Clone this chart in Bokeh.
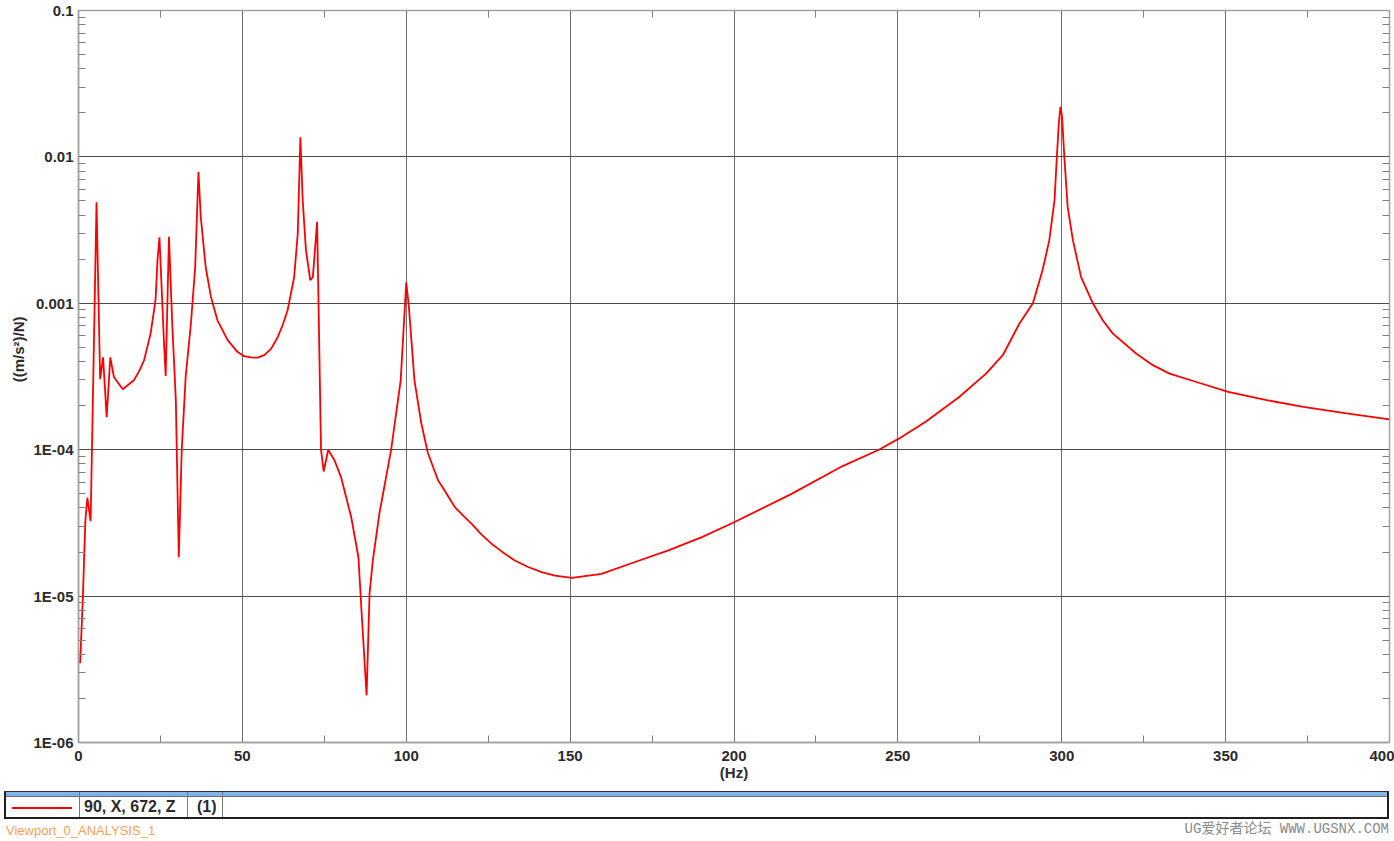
from bokeh.plotting import figure
from bokeh.models import FixedTicker, LogAxis, LinearAxis, Range1d, Div
from bokeh.layouts import column
from bokeh.embed import file_html
from bokeh.resources import INLINE

# ---- data ----
freq_hz = [0.5, 1.3, 2.1, 2.7, 3.7, 5.5, 6.6, 7.5, 8.6, 9.7, 10.8, 13.5, 16.9, 18.4,
           20.0, 22.0, 23.5, 24.1, 24.7, 26.1, 26.6, 27.6, 28.6, 29.7, 30.6, 31.5,
           32.7, 34.3, 35.6, 36.6, 37.3, 38.8, 40.4, 42.4, 45.5, 48.5, 50.5, 52.6,
           54.6, 56.7, 58.8, 60.8, 62.3, 63.8, 65.8, 66.9, 67.7, 68.4, 69.4, 70.7,
           71.5, 72.8, 74.0, 74.8, 76.2, 78.1, 80.1, 83.2, 85.4, 86.4, 87.9, 88.8,
           89.8, 91.8, 95.4, 98.3, 100.0, 100.8, 102.5, 104.6, 106.6, 108.2, 109.7,
           111.7, 114.8, 117.3, 119.9, 122.9, 126.0, 129.1, 133.1, 137.2, 141.3,
           145.4, 150.5, 159.6, 169.8, 180.0, 190.2, 200.2, 217.7, 233.0, 244.2,
           250.3, 258.5, 268.7, 276.9, 282.0, 287.1, 291.2, 294.2, 296.2, 297.8,
           298.5, 299.1, 299.6, 300.1, 300.8, 301.8, 303.4, 305.9, 309.5, 312.5,
           315.6, 322.7, 327.8, 332.9, 341.1, 350.8, 362.5, 373.7, 386.9, 400.0]
response = [3.48e-6, 9.35e-6, 3.29e-5, 4.7e-5, 3.25e-5, 4.9e-3, 3.03e-4, 4.27e-4,
            1.67e-4, 4.27e-4, 3.14e-4, 2.59e-4, 2.98e-4, 3.4e-4, 4.08e-4, 6.21e-4,
            1.05e-3, 1.97e-3, 2.82e-3, 5.3e-4, 3.19e-4, 2.85e-3, 7.28e-4, 2.18e-4,
            1.84e-5, 1.0e-4, 3.14e-4, 7.28e-4, 1.77e-3, 7.9e-3, 3.9e-3, 1.77e-3,
            1.11e-3, 7.65e-4, 5.6e-4, 4.66e-4, 4.35e-4, 4.27e-4, 4.25e-4, 4.42e-4,
            4.9e-4, 5.89e-4, 7.1e-4, 8.97e-4, 1.51e-3, 3.0e-3, 1.36e-2, 5.07e-3,
            2.31e-3, 1.44e-3, 1.51e-3, 3.6e-3, 1.0e-4, 7.1e-5, 1.0e-4, 8.47e-5,
            6.5e-5, 3.47e-5, 1.85e-5, 7.6e-6, 2.1e-6, 1.04e-5, 1.75e-5, 3.66e-5,
            1.0e-4, 2.98e-4, 1.39e-3, 9.5e-4, 2.98e-4, 1.51e-4, 9.5e-5, 7.62e-5,
            6.18e-5, 5.27e-5, 4.06e-5, 3.56e-5, 3.13e-5, 2.64e-5, 2.28e-5, 2.02e-5,
            1.75e-5, 1.58e-5, 1.46e-5, 1.38e-5, 1.33e-5, 1.42e-5, 1.71e-5, 2.05e-5,
            2.53e-5, 3.21e-5, 5.01e-5, 7.7e-5, 1.0e-4, 1.19e-4, 1.55e-4, 2.29e-4,
            3.31e-4, 4.42e-4, 7.28e-4, 1.0e-3, 1.7e-3, 2.7e-3, 5.07e-3, 1.0e-2,
            1.69e-2, 2.2e-2, 1.88e-2, 9.9e-3, 4.56e-3, 2.7e-3, 1.51e-3, 1.0e-3,
            7.66e-4, 6.21e-4, 4.54e-4, 3.78e-4, 3.31e-4, 2.9e-4, 2.48e-4, 2.18e-4,
            1.96e-4, 1.77e-4, 1.61e-4]

x_ticks = [0, 50, 100, 150, 200, 250, 300, 350, 400]
x_minor = [25, 75, 125, 175, 225, 275, 325, 375]
y_ticks = [1e-6, 1e-5, 1e-4, 1e-3, 1e-2, 1e-1]
y_tick_labels = ["1E-06", "1E-05", "1E-04", "0.001", "0.01", "0.1"]
x_label = "(Hz)"
y_label = "((m/s\u00b2)/N)"
legend_label = "90, X, 672, Z"
legend_index = "(1)"
viewport_name = "Viewport_0_ANALYSIS_1"
watermark = "UG\u7231\u597d\u8005\u8bba\u575b WWW.UGSNX.COM"

FONT = "Liberation Sans"
TXT = "#2b2b2b"
PLOT_H = 786
TOTAL_W, TOTAL_H = 1394, 841

y_minor = [k * d for d in y_ticks[:-1] for k in range(2, 10)]
xt = FixedTicker(ticks=x_ticks, minor_ticks=x_minor)
yt = FixedTicker(ticks=y_ticks, minor_ticks=y_minor)

p = figure(width=TOTAL_W, height=PLOT_H, x_range=Range1d(0, 400),
           y_range=Range1d(1e-6, 0.1), y_axis_type="log", output_backend="svg",
           toolbar_location=None, min_border_left=78, min_border_right=5,
           min_border_top=10, min_border_bottom=PLOT_H - 742)
p.background_fill_color = "white"
p.border_fill_color = "white"
p.outline_line_color = "#a8a8a8"
p.outline_line_width = 1.5

p.xaxis.ticker = xt
p.yaxis.ticker = yt
p.xgrid.ticker = xt
p.ygrid.ticker = yt
p.xgrid.grid_line_color = "#6e6e6e"
p.ygrid.grid_line_color = "#4a4a4a"
p.xgrid.grid_line_width = 1
p.ygrid.grid_line_width = 1

p.yaxis.major_label_overrides = {t: l for t, l in zip(y_ticks, y_tick_labels)}

for ax in (p.xaxis[0], p.yaxis[0]):
    ax.major_tick_in = 0
    ax.major_tick_out = 0
    ax.minor_tick_in = 7
    ax.minor_tick_out = 0
    ax.minor_tick_line_color = "#808080"
    ax.axis_line_color = "#a0a0a0"
    ax.axis_line_width = 1.5
    ax.major_label_text_font = FONT
    ax.major_label_text_font_style = "bold"
    ax.major_label_text_font_size = "15px"
    ax.major_label_text_color = TXT
    ax.axis_label_text_font = FONT
    ax.axis_label_text_font_style = "bold"
    ax.axis_label_text_font_size = "15px"
    ax.axis_label_text_color = TXT

p.xaxis.major_label_standoff = 8
p.xaxis.axis_label = x_label
p.xaxis.axis_label_standoff = 0
p.yaxis.major_label_standoff = 5
p.yaxis.axis_label = "\u00a0" * 13 + y_label
p.yaxis.axis_label_standoff = 3

# right and top axes: minor ticks only, no labels
right = LogAxis(ticker=FixedTicker(ticks=[], minor_ticks=y_minor), major_tick_in=0,
                major_tick_out=0, minor_tick_in=7, minor_tick_out=0, major_label_standoff=0,
                minor_tick_line_color="#808080", axis_line_color="#a0a0a0")
p.add_layout(right, "right")
top = LinearAxis(ticker=FixedTicker(ticks=[], minor_ticks=x_minor), major_tick_in=0,
                 major_tick_out=0, minor_tick_in=7, minor_tick_out=0, major_label_standoff=0,
                 minor_tick_line_color="#808080", axis_line_color="#a0a0a0")
p.add_layout(top, "above")

p.line(freq_hz, response, line_color="#ff0000", line_width=1.8)

# ---- legend table under the plot, as an HTML block ----
def ab(left, top, width, height, extra=""):
    return (f"position:absolute;left:{left}px;top:{top}px;width:{width}px;"
            f"height:{height}px;box-sizing:border-box;{extra}")

leg_h = TOTAL_H - PLOT_H
y0 = 791 - PLOT_H          # top of the table
row_mid = 807 - PLOT_H
html = f"""
<div style="position:relative;width:{TOTAL_W}px;height:{leg_h}px;overflow:hidden;
            font-family:'{FONT}',Arial,sans-serif;background:white;">
  <div style="{ab(4, y0, 1385, 28, 'border:2px solid #202020;border-top:1px solid #303030;background:white;')}"></div>
  <div style="{ab(6, y0 + 1, 1381, 5, 'background:#80b4e8;border-bottom:1px solid #6a6a6a;')}"></div>
  <div style="{ab(79, y0 + 1, 1, 25, 'background:#7a7a7a;')}"></div>
  <div style="{ab(187, y0 + 1, 1, 25, 'background:#7a7a7a;')}"></div>
  <div style="{ab(222, y0 + 1, 1, 25, 'background:#7a7a7a;')}"></div>
  <div style="{ab(12, row_mid, 60, 2, 'background:#ff0000;')}"></div>
  <div style="{ab(84, row_mid - 10, 100, 20, f'font-size:16px;font-weight:bold;line-height:20px;color:{TXT};white-space:nowrap;')}">{legend_label}</div>
  <div style="{ab(197, row_mid - 10, 24, 20, f'font-size:16px;font-weight:bold;line-height:20px;color:{TXT};white-space:nowrap;')}">{legend_index}</div>
  <div style="{ab(6, 823 - PLOT_H, 250, 15, 'font-size:13px;line-height:15px;color:#f5a055;white-space:nowrap;')}">{viewport_name}</div>
  <div style="position:absolute;right:{TOTAL_W - 1389}px;top:{821 - PLOT_H}px;height:16px;
              font-family:'Liberation Mono','Noto Sans CJK SC',monospace;font-size:14px;
              line-height:16px;color:#8a8a8a;white-space:nowrap;">{watermark}</div>
</div>
"""
leg = Div(text=html, width=TOTAL_W, height=leg_h, margin=0)

layout = column(p, leg, spacing=0)
open("out.html", "w").write(file_html(layout, INLINE))
